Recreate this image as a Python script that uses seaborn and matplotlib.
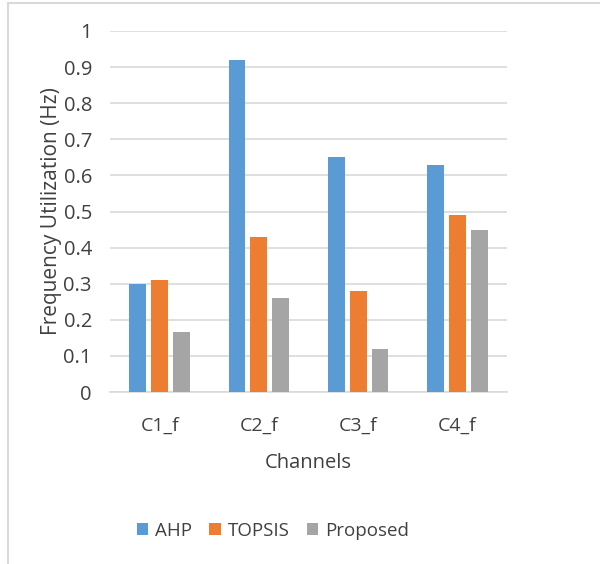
import matplotlib
matplotlib.use("Agg")
import matplotlib.pyplot as plt
from matplotlib.lines import Line2D
from matplotlib.patches import Patch
import seaborn as sns
import pandas as pd

channels = ["C1_f", "C2_f", "C3_f", "C4_f"]
ahp = [0.30, 0.92, 0.65, 0.63]
topsis = [0.31, 0.43, 0.28, 0.49]
proposed = [0.165, 0.26, 0.12, 0.45]
methods = ["AHP", "TOPSIS", "Proposed"]
colors = ["#5B9BD5", "#ED7D31", "#A5A5A5"]
yticks = [0, 0.1, 0.2, 0.3, 0.4, 0.5, 0.6, 0.7, 0.8, 0.9, 1]

rows = []
for m, vals in zip(methods, [ahp, topsis, proposed]):
    for c, v in zip(channels, vals):
        rows.append({"Channel": c, "Method": m, "Value": v})
df = pd.DataFrame(rows)

sns.set_theme(style="white")
plt.rcParams["font.family"] = ["Open Sans", "DejaVu Sans"]

fig = plt.figure(figsize=(6.0, 5.64), dpi=100)
ax = fig.add_axes([110 / 600, 1 - 392 / 564, 397 / 600, 361 / 564])

sns.barplot(data=df, x="Channel", y="Value", hue="Method", order=channels,
            hue_order=methods, palette=colors, width=0.66, gap=0.23,
            saturation=1, linewidth=0, legend=False, ax=ax, zorder=3)

ax.set_ylim(0, 1)
ax.set_xlim(-0.5, 3.5)
ax.set_yticks(yticks)
ax.set_yticklabels([f"{t:g}" for t in yticks], fontsize=14.5, color="#404040")
ax.tick_params(axis="x", labelsize=14, colors="#404040", length=0, pad=18)
ax.tick_params(axis="y", length=0, pad=13)
ax.yaxis.grid(True, color="#D9D9D9", linewidth=1.2, zorder=0)
ax.set_axisbelow(True)
for s in ["top", "right", "left"]:
    ax.spines[s].set_visible(False)
ax.spines["bottom"].set_color("#D9D9D9")
ax.spines["bottom"].set_linewidth(1.2)

ax.set_xlabel("Channels", fontsize=14.5, color="#404040", labelpad=13)
ax.set_ylabel("Frequency Utilization (Hz)", fontsize=15, color="#404040", labelpad=1)

handles = [Patch(facecolor=c, edgecolor="none") for c in colors]
fig.legend(handles, methods, loc="center", bbox_to_anchor=(273 / 600, 1 - 531 / 564),
           ncol=3, frameon=False, fontsize=13.5, handlelength=0.6, handleheight=0.6,
           handletextpad=0.4, columnspacing=0.9, labelcolor="#404040")

# outer chart frame (left and top edges)
fig.add_artist(Line2D([7.5 / 600, 7.5 / 600], [0, 1 - 2.5 / 564], transform=fig.transFigure,
                      color="#D9D9D9", linewidth=1.5))
fig.add_artist(Line2D([7.5 / 600, 1], [1 - 2.5 / 564, 1 - 2.5 / 564], transform=fig.transFigure,
                      color="#D9D9D9", linewidth=1.5))

fig.savefig("out.png", dpi=100, facecolor="white")
